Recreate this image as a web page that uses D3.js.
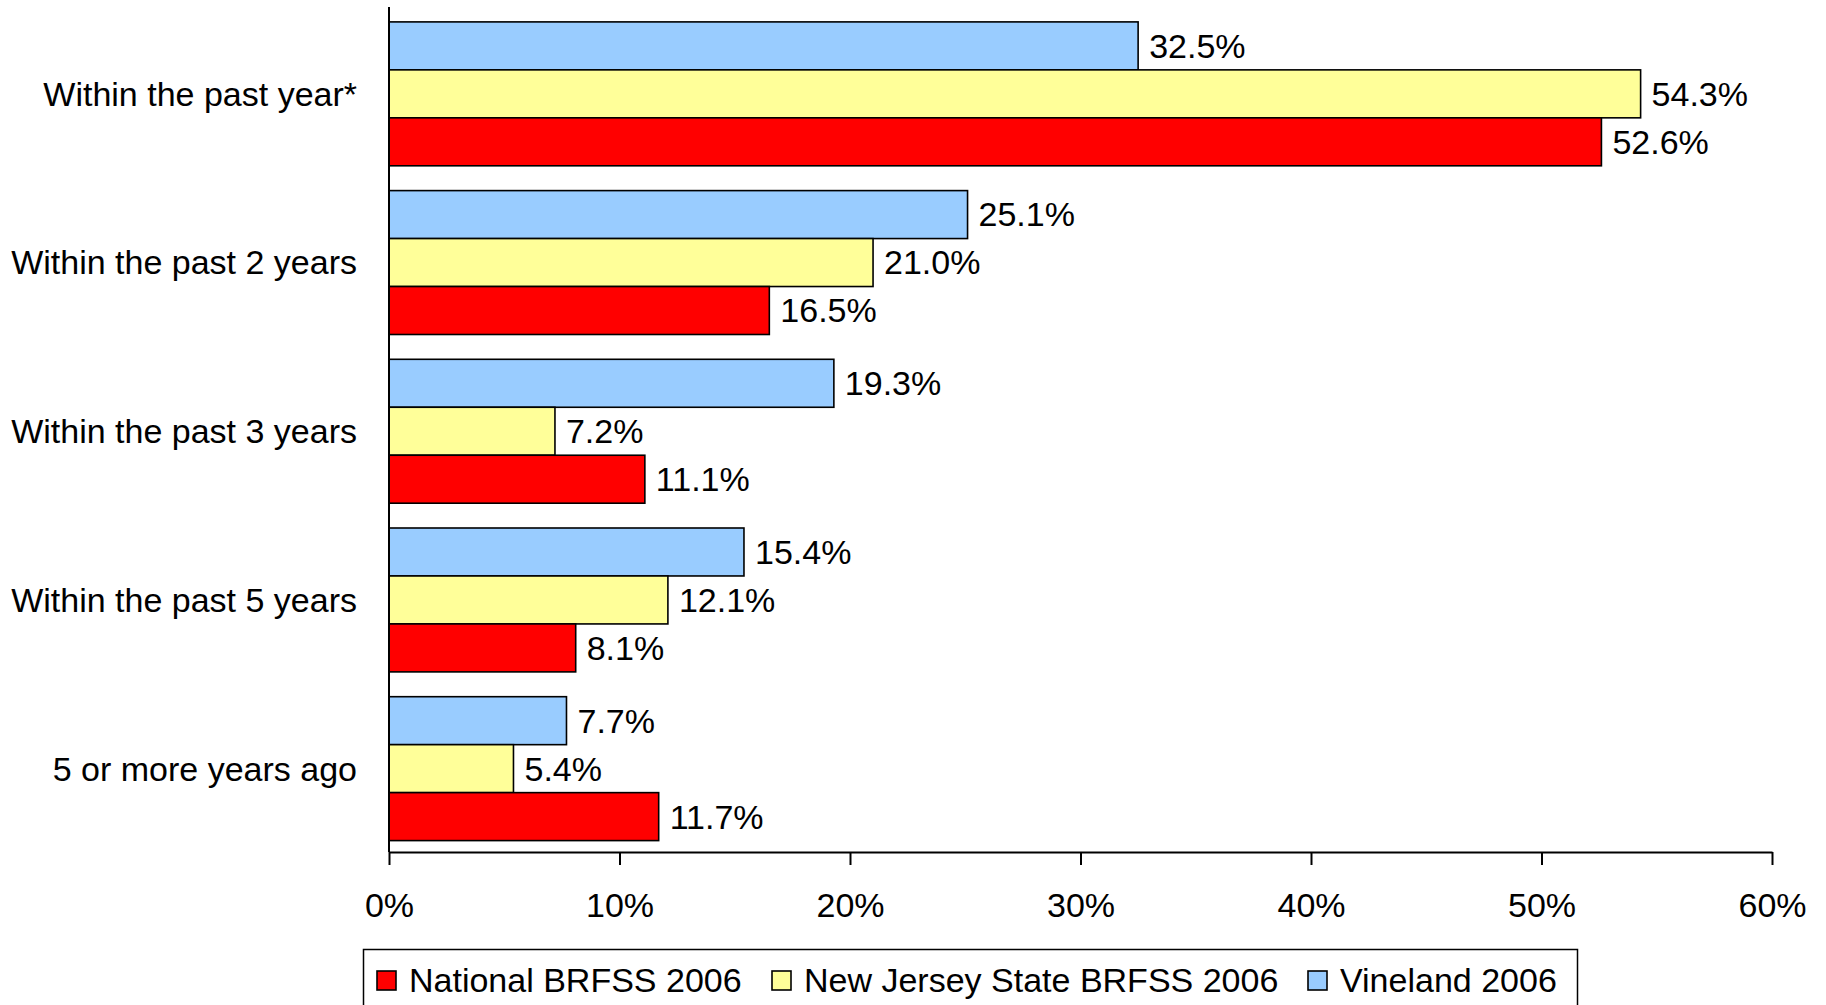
<!DOCTYPE html>
<html>
<head>
<meta charset="utf-8">
<script src="https://cdn.jsdelivr.net/npm/d3@7/dist/d3.min.js"></script>
<style>
  html, body { margin: 0; padding: 0; background: #fff; }
  svg { display: block; font-family: "Liberation Sans", Arial, sans-serif; }
</style>
</head>
<body>
<svg id="chart" width="1826" height="1005"></svg>
<script>
// Time since last screening, by survey
const categories = [
  "Within the past year*",
  "Within the past 2 years",
  "Within the past 3 years",
  "Within the past 5 years",
  "5 or more years ago"
];
const seriesNames = ["Vineland 2006", "New Jersey State BRFSS 2006", "National BRFSS 2006"];
const vineland = [32.5, 25.1, 19.3, 15.4, 7.7];
const newJersey = [54.3, 21.0, 7.2, 12.1, 5.4];
const national = [52.6, 16.5, 11.1, 8.1, 11.7];
const seriesColors = ["#99CCFF", "#FFFF99", "#FF0000"];
const xTicks = [0, 10, 20, 30, 40, 50, 60];
const legendOrder = ["National BRFSS 2006", "New Jersey State BRFSS 2006", "Vineland 2006"];

const seriesValues = [vineland, newJersey, national];

const svg = d3.select("#chart");
const fontSize = 34;

const x = d3.scaleLinear().domain([0, 60]).range([389, 1772]);
const y = d3.scaleBand().domain(categories).range([9.5, 853])
  .paddingInner(0.147).paddingOuter(0.0735);
const ySub = d3.scaleBand().domain(seriesNames).range([0, y.bandwidth()]);

// Bars
const groups = svg.append("g").selectAll("g")
  .data(categories)
  .join("g")
  .attr("transform", d => `translate(0,${y(d)})`);

groups.each(function(cat, ci) {
  const g = d3.select(this);
  const rows = seriesNames.map((name, si) => ({ name, value: seriesValues[si][ci], color: seriesColors[si] }));
  g.selectAll("rect")
    .data(rows)
    .join("rect")
    .attr("x", x(0))
    .attr("y", d => ySub(d.name))
    .attr("width", d => x(d.value) - x(0))
    .attr("height", ySub.bandwidth())
    .attr("fill", d => d.color)
    .attr("stroke", "#000")
    .attr("stroke-width", 1.6);
  g.selectAll("text")
    .data(rows)
    .join("text")
    .attr("x", d => x(d.value) + 11)
    .attr("y", d => ySub(d.name) + ySub.bandwidth() / 2)
    .attr("dy", "0.35em")
    .attr("font-size", fontSize)
    .attr("fill", "#000")
    .text(d => d.value.toFixed(1) + "%");
});

// Category labels
svg.append("g").selectAll("text")
  .data(categories)
  .join("text")
  .attr("x", 357)
  .attr("y", d => y(d) + y.bandwidth() / 2)
  .attr("dy", "0.35em")
  .attr("text-anchor", "end")
  .attr("font-size", fontSize)
  .text(d => d);

// Vertical axis line
svg.append("line")
  .attr("x1", x(0)).attr("x2", x(0))
  .attr("y1", 7).attr("y2", 852)
  .attr("stroke", "#000").attr("stroke-width", 2);

// Horizontal value axis
const xAxis = d3.axisBottom(x)
  .tickValues(xTicks)
  .tickFormat(d => d + "%")
  .tickSize(13)
  .tickSizeOuter(0)
  .tickPadding(28);
const axisG = svg.append("g")
  .attr("transform", "translate(0,852)")
  .call(xAxis);
axisG.select(".domain").attr("stroke", "#000").attr("stroke-width", 2);
axisG.selectAll(".tick line").attr("stroke", "#000").attr("stroke-width", 2);
axisG.selectAll(".tick text")
  .attr("font-size", fontSize)
  .attr("font-family", "'Liberation Sans', Arial, sans-serif")
  .attr("fill", "#000");

// Legend
const legendG = svg.append("g");
legendG.append("rect")
  .attr("x", 363.5).attr("y", 949.5)
  .attr("width", 1214).attr("height", 80)
  .attr("fill", "#fff").attr("stroke", "#000").attr("stroke-width", 1.5);
const legendX = [377, 772, 1308];
legendOrder.forEach((name, i) => {
  const color = seriesColors[seriesNames.indexOf(name)];
  legendG.append("rect")
    .attr("x", legendX[i]).attr("y", 971)
    .attr("width", 19).attr("height", 19)
    .attr("fill", color).attr("stroke", "#000").attr("stroke-width", 1.6);
  legendG.append("text")
    .attr("x", legendX[i] + 32).attr("y", 992)
    .attr("font-size", fontSize)
    .text(name);
});
</script>
</body>
</html>
